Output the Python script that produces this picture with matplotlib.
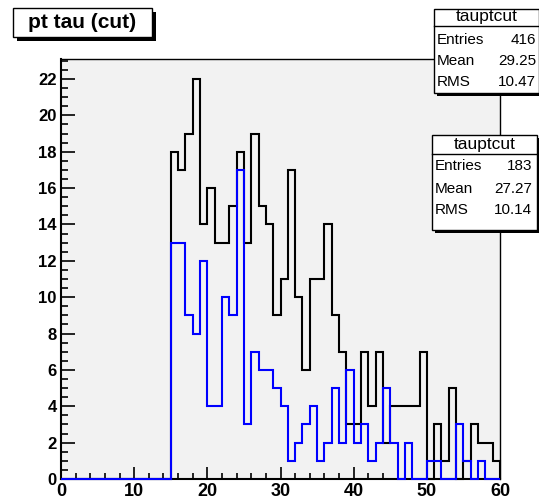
import numpy as np
import matplotlib
matplotlib.use("Agg")
import matplotlib.pyplot as plt
from matplotlib.patches import Rectangle
from matplotlib.lines import Line2D
from matplotlib.ticker import MultipleLocator

plt.rcParams['font.family'] = ['Liberation Sans', 'DejaVu Sans']

# 60 bins of width 1 over [0, 60]
edges = np.arange(0, 61, 1)

# tau pt, all candidates (black)
pt_all = [0, 0, 0, 0, 0, 0, 0, 0, 0, 0,
          0, 0, 0, 0, 0, 18, 17, 19, 22, 14,
          16, 13, 13, 15, 18, 13, 19, 15, 14, 9,
          11, 17, 10, 6, 11, 11, 14, 9, 7, 3,
          3, 7, 4, 7, 2, 4, 4, 4, 4, 7,
          0, 3, 1, 5, 0, 1, 3, 2, 2, 1]

# tau pt after cut (blue)
pt_cut = [0, 0, 0, 0, 0, 0, 0, 0, 0, 0,
          0, 0, 0, 0, 0, 13, 13, 9, 8, 12,
          4, 4, 10, 9, 17, 3, 7, 6, 6, 5,
          4, 1, 2, 3, 4, 1, 2, 5, 2, 6,
          2, 3, 1, 2, 5, 2, 0, 2, 0, 0,
          1, 1, 0, 0, 3, 1, 0, 1, 0, 0]

stats_all = {"Entries": "416", "Mean": "29.25", "RMS": "10.47"}
stats_cut = {"Entries": "183", "Mean": "27.27", "RMS": "10.14"}

W, H = 539, 503
fig = plt.figure(figsize=(W / 100, H / 100), dpi=100)
fig.patch.set_facecolor("white")


def fx(x):
    return x / W


def fy(y):
    return 1 - y / H


ax = fig.add_axes([fx(61), fy(479), (500 - 61) / W, (479 - 59) / H])
ax.set_facecolor("#f2f2f2")

# histograms sit above the frame so the empty bins show along the x axis
ax.stairs(pt_all, edges, color="black", linewidth=1.5, baseline=0,
          zorder=3, clip_on=False)
ax.stairs(pt_cut, edges, color="#0000ff", linewidth=1.5, baseline=0,
          zorder=4, clip_on=False)

ax.set_xlim(0, 60)
ax.set_ylim(0, 23.1)

ax.xaxis.set_major_locator(MultipleLocator(10))
ax.xaxis.set_minor_locator(MultipleLocator(2))
ax.yaxis.set_major_locator(MultipleLocator(2))
ax.yaxis.set_minor_locator(MultipleLocator(0.5))

ax.tick_params(axis="y", which="major", direction="in", length=10, width=1.2,
               labelsize=12, pad=3)
ax.tick_params(axis="y", which="minor", direction="in", length=5, width=1.2)
ax.tick_params(axis="x", which="major", direction="in", length=8.5, width=1.2,
               labelsize=13, pad=3)
ax.tick_params(axis="x", which="minor", direction="in", length=4.3, width=1.2)
for lab in ax.get_xticklabels() + ax.get_yticklabels():
    lab.set_fontweight("bold")

for side in ["left", "bottom"]:
    ax.spines[side].set_linewidth(1.5)
for side in ["top", "right"]:
    ax.spines[side].set_linewidth(1.0)


def box(x0, y0, x1, y1, shadow, lw=1.0):
    # shadow first, then the white box on top
    fig.add_artist(Rectangle((fx(x0 + shadow), fy(y1 + shadow)),
                             (x1 - x0) / W, (y1 - y0) / H,
                             transform=fig.transFigure, facecolor="black",
                             edgecolor="black", linewidth=0, zorder=10))
    fig.add_artist(Rectangle((fx(x0), fy(y1)), (x1 - x0) / W, (y1 - y0) / H,
                             transform=fig.transFigure, facecolor="white",
                             edgecolor="black", linewidth=lw, zorder=11))


# histogram title
box(13, 8, 152, 37, 4)
fig.text(fx(82.5), fy(22.5), "pt tau (cut)", fontsize=15, fontweight="bold",
         ha="center", va="center", zorder=12)


def stats_box(x0, y0, x1, y1, sep, rows, stats, title_y, right_pad):
    box(x0, y0, x1, y1, 3)
    fig.add_artist(Line2D([fx(x0), fx(x1)], [fy(sep), fy(sep)],
                          transform=fig.transFigure, color="black",
                          linewidth=1.0, zorder=12))
    fig.text(fx((x0 + x1) / 2), fy(title_y), "tauptcut", fontsize=12.5,
             ha="center", va="center", zorder=12)
    for (name, val), ry in zip(stats.items(), rows):
        fig.text(fx(x0 + 3), fy(ry), name, fontsize=11, ha="left",
                 va="center", zorder=12)
        fig.text(fx(x1 - right_pad), fy(ry), val, fontsize=11, ha="right",
                 va="center", zorder=12)


stats_box(434, 9, 539, 93, 26, [40, 61, 82], stats_all, 17, 3)
stats_box(432, 135, 537, 230, 154, [166, 189, 210], stats_cut, 144, 5)

fig.savefig("out.png", dpi=100)
